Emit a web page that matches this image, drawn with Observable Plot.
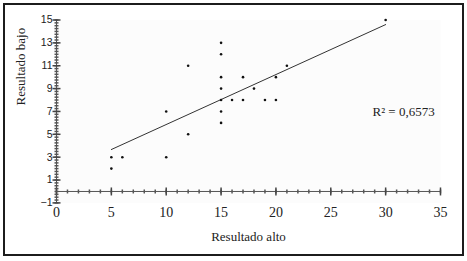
<!DOCTYPE html>
<html><head><meta charset="utf-8">
<script src="https://cdn.jsdelivr.net/npm/d3@7"></script>
<script src="https://cdn.jsdelivr.net/npm/@observablehq/plot@0.6"></script>
<style>
html,body{margin:0;padding:0;background:#fff;}
#wrap{position:relative;width:467px;height:261px;overflow:hidden;}
#frame{position:absolute;left:3px;top:3px;width:461px;height:253px;box-sizing:border-box;border:2px solid #1c1c1c;pointer-events:none;}
#chart{position:absolute;left:0;top:0;}
</style></head><body>
<div id="wrap"><div id="chart"></div><div id="frame"></div></div>
<script>
// Data
const altoValues = [5, 5, 6, 10, 10, 12, 12, 15, 15, 15, 15, 15, 15, 15, 16, 17, 17, 18, 19, 20, 20, 21, 30];
const bajoValues = [3, 2, 3, 3, 7, 5, 11, 13, 12, 10, 9, 8, 7, 6, 8, 8, 10, 9, 8, 8, 10, 11, 15];
const trendX = [5, 30];
const trendY = [3.67, 14.6];
const xTickLabels = [0, 5, 10, 15, 20, 25, 30, 35];
const yTickLabels = [-1, 1, 3, 5, 7, 9, 11, 13, 15];
const xMinorTicks = d3.range(0, 35.5, 1);
const yMinorTicks = d3.range(-1, 15.01, 0.25);
const r2Label = ["R\u00B2 = 0,6573"];
const r2Pos = {x: 28.8, y: 7.0};

const points = altoValues.map((x, i) => ({x, y: bajoValues[i]}));
const trend = trendX.map((x, i) => ({x, y: trendY[i]}));

const vbar = {draw(ctx, size) { const r = Math.sqrt(size / Math.PI); ctx.moveTo(0, -r); ctx.lineTo(0, r); }};
const hbar = {draw(ctx, size) { const r = Math.sqrt(size / Math.PI); ctx.moveTo(-r, 0); ctx.lineTo(r, 0); }};

const chart = Plot.plot({
  width: 467,
  height: 261,
  marginLeft: 56,
  marginRight: 27,
  marginTop: 19.5,
  marginBottom: 58.6,
  style: {background: "transparent", color: "#222"},
  x: {domain: [0, 35], axis: null},
  y: {domain: [-1, 15], axis: null},
  marks: [
    Plot.frame({fill: "#fcfcfc", stroke: "none"}),
    Plot.ruleX([0], {stroke: "#555"}),
    Plot.ruleY([0], {stroke: "#555"}),
    Plot.dot(xMinorTicks, {x: d => d, y: () => 0, r: 2, symbol: vbar, fill: "none", stroke: "#555"}),
    Plot.dot(xTickLabels, {x: d => d, y: () => 0, r: 4, symbol: vbar, fill: "none", stroke: "#444"}),
    Plot.dot(yMinorTicks, {x: () => 0, y: d => d, r: 2, symbol: hbar, fill: "none", stroke: "#555"}),
    Plot.dot(yTickLabels, {x: () => 0, y: d => d, r: 4, symbol: hbar, fill: "none", stroke: "#444"}),
    Plot.axisX({ticks: xTickLabels, tickSize: 0, tickPadding: 4, fontSize: 14, fontFamily: "Liberation Serif", label: null}),
    Plot.axisY({ticks: yTickLabels, tickSize: 0, tickPadding: 4, fontSize: 10.5, fontFamily: "Liberation Sans", label: null}),
    Plot.line(trend, {x: "x", y: "y", stroke: "#333", strokeWidth: 1}),
    Plot.dot(points, {x: "x", y: "y", r: 1.3, fill: "#111", stroke: "none"}),
    Plot.text(r2Label, {x: () => r2Pos.x, y: () => r2Pos.y, text: d => d, textAnchor: "start", fontSize: 13, fontFamily: "Liberation Serif", fill: "#222"}),
    Plot.text(["Resultado alto"], {frameAnchor: "bottom", dy: 38, text: d => d, fontSize: 13, fontFamily: "Liberation Serif", fill: "#222"}),
    Plot.text(["Resultado bajo"], {frameAnchor: "left", dx: -36, dy: -6, rotate: -90, text: d => d, fontSize: 13, fontFamily: "Liberation Serif", fill: "#222"})
  ]
});
document.getElementById("chart").append(chart);
</script>
</body></html>
